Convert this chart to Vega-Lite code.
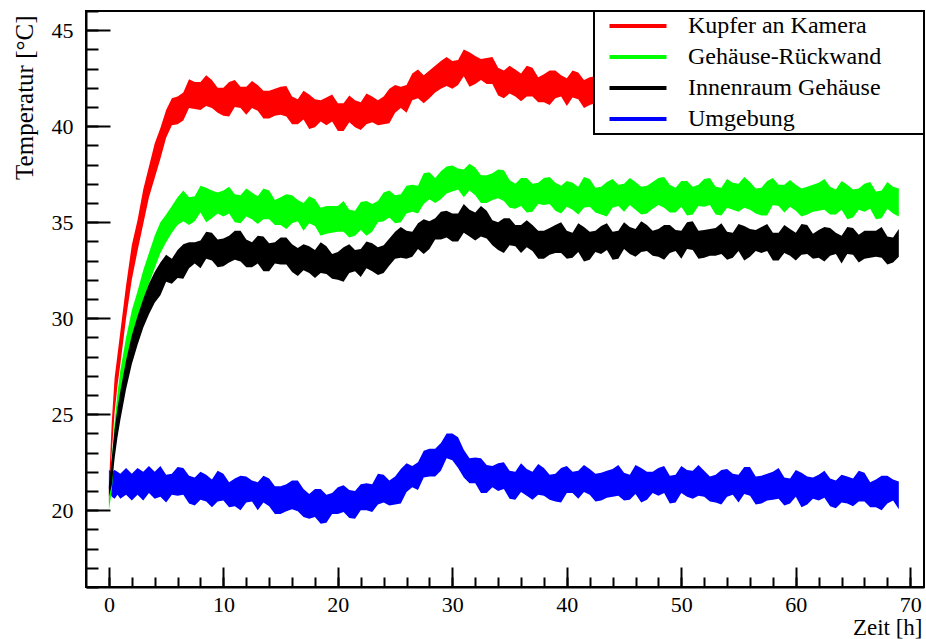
{
"$schema": "https://vega.github.io/schema/vega-lite/v6.json",
"width": 838, "height": 576,
"autosize": {"type": "none"},
"padding": {"left": 86, "top": 11, "right": 2, "bottom": 52},
"background": "white",
"config": {"view": {"stroke": "black", "strokeWidth": 2}, "font": "Liberation Serif"},
"data": {"values": [
{"t":0,"r0":20.4,"r1":21.2,"g0":20.0,"g1":20.6,"k0":20.7,"k1":21.3,"b0":21.1,"b1":22.1},
{"t":0.25,"r0":23.0,"r1":24.6,"g0":21.0,"g1":22.6,"k0":21.3,"k1":22.7,"b0":20.7,"b1":22.0},
{"t":0.5,"r0":25.1,"r1":26.9,"g0":23.0,"g1":24.6,"k0":22.7,"k1":24.2,"b0":20.6,"b1":22.1},
{"t":0.75,"r0":26.5,"r1":28.1,"g0":24.4,"g1":26.1,"k0":23.8,"k1":25.3,"b0":20.8,"b1":22.0},
{"t":1,"r0":27.6,"r1":29.3,"g0":25.7,"g1":27.3,"k0":24.7,"k1":26.2,"b0":20.6,"b1":21.9},
{"t":1.5,"r0":30.0,"r1":31.7,"g0":27.4,"g1":29.0,"k0":26.3,"k1":27.8,"b0":20.8,"b1":22.2},
{"t":2,"r0":32.0,"r1":33.8,"g0":28.7,"g1":30.4,"k0":27.6,"k1":29.1,"b0":20.5,"b1":21.9},
{"t":2.5,"r0":33.5,"r1":35.1,"g0":29.8,"g1":31.4,"k0":28.6,"k1":30.1,"b0":20.8,"b1":22.2},
{"t":3,"r0":34.9,"r1":36.7,"g0":30.9,"g1":32.5,"k0":29.5,"k1":31.0,"b0":20.5,"b1":22.0},
{"t":3.5,"r0":36.3,"r1":37.9,"g0":31.8,"g1":33.4,"k0":30.2,"k1":31.8,"b0":20.9,"b1":22.3},
{"t":4,"r0":37.3,"r1":39.1,"g0":32.6,"g1":34.3,"k0":30.8,"k1":32.4,"b0":20.6,"b1":22.0},
{"t":4.5,"r0":38.3,"r1":39.9,"g0":33.4,"g1":35.0,"k0":31.2,"k1":32.9,"b0":20.7,"b1":22.3},
{"t":5,"r0":39.4,"r1":40.85,"g0":33.95,"g1":35.4,"k0":31.9,"k1":33.3,"b0":20.4,"b1":21.85},
{"t":5.5,"r0":40.05,"r1":41.45,"g0":34.45,"g1":35.85,"k0":31.8,"k1":33.1,"b0":20.8,"b1":21.9},
{"t":6,"r0":40.1,"r1":41.55,"g0":34.85,"g1":36.3,"k0":32.1,"k1":33.55,"b0":20.75,"b1":22.25},
{"t":6.5,"r0":40.3,"r1":41.75,"g0":35.05,"g1":36.65,"k0":32.05,"k1":33.85,"b0":20.8,"b1":22.2},
{"t":7,"r0":40.95,"r1":42.45,"g0":34.85,"g1":36.3,"k0":32.6,"k1":33.95,"b0":20.35,"b1":21.8},
{"t":7.5,"r0":40.9,"r1":42.3,"g0":35.05,"g1":36.35,"k0":32.85,"k1":33.95,"b0":20.25,"b1":21.7},
{"t":8,"r0":40.85,"r1":42.3,"g0":35.5,"g1":36.9,"k0":32.6,"k1":34.05,"b0":20.55,"b1":22.0},
{"t":8.5,"r0":41.05,"r1":42.65,"g0":35.0,"g1":36.8,"k0":33.1,"k1":34.5,"b0":20.45,"b1":21.85},
{"t":9,"r0":40.95,"r1":42.4,"g0":35.2,"g1":36.65,"k0":33.0,"k1":34.45,"b0":20.15,"b1":21.6},
{"t":9.5,"r0":40.7,"r1":42.0,"g0":35.45,"g1":36.55,"k0":32.65,"k1":34.1,"b0":20.45,"b1":22.05},
{"t":10,"r0":40.55,"r1":42.0,"g0":35.3,"g1":36.65,"k0":32.7,"k1":34.15,"b0":20.5,"b1":21.9},
{"t":10.5,"r0":40.5,"r1":42.3,"g0":35.45,"g1":36.85,"k0":32.9,"k1":34.3,"b0":20.15,"b1":21.45},
{"t":11,"r0":41.0,"r1":42.4,"g0":35.0,"g1":36.45,"k0":33.05,"k1":34.55,"b0":20.2,"b1":21.65},
{"t":11.5,"r0":40.95,"r1":42.05,"g0":34.95,"g1":36.4,"k0":32.95,"k1":34.55,"b0":20.0,"b1":21.8},
{"t":12,"r0":40.6,"r1":42.05,"g0":35.3,"g1":36.75,"k0":32.65,"k1":34.1,"b0":20.4,"b1":21.75},
{"t":12.5,"r0":40.95,"r1":42.35,"g0":35.15,"g1":36.55,"k0":32.65,"k1":33.95,"b0":20.45,"b1":21.55},
{"t":13,"r0":40.8,"r1":42.15,"g0":34.9,"g1":36.35,"k0":32.85,"k1":34.3,"b0":20.0,"b1":21.45},
{"t":13.5,"r0":40.4,"r1":41.85,"g0":35.15,"g1":36.75,"k0":32.45,"k1":34.25,"b0":20.4,"b1":21.8},
{"t":14,"r0":40.4,"r1":41.85,"g0":35.15,"g1":36.65,"k0":32.45,"k1":33.9,"b0":20.2,"b1":21.65},
{"t":14.5,"r0":40.55,"r1":41.95,"g0":34.85,"g1":36.15,"k0":32.85,"k1":33.95,"b0":19.8,"b1":21.25},
{"t":15,"r0":40.6,"r1":42.05,"g0":34.85,"g1":36.3,"k0":32.8,"k1":34.2,"b0":19.8,"b1":21.25},
{"t":15.5,"r0":40.5,"r1":42.1,"g0":34.65,"g1":36.45,"k0":32.8,"k1":34.2,"b0":19.95,"b1":21.35},
{"t":16,"r0":40.1,"r1":41.55,"g0":34.95,"g1":36.4,"k0":32.4,"k1":33.85,"b0":20.05,"b1":21.55},
{"t":16.5,"r0":40.1,"r1":41.4,"g0":35.05,"g1":36.15,"k0":32.2,"k1":33.65,"b0":19.95,"b1":21.55},
{"t":17,"r0":40.35,"r1":41.85,"g0":34.55,"g1":36.0,"k0":32.5,"k1":33.85,"b0":19.65,"b1":21.1},
{"t":17.5,"r0":39.85,"r1":41.65,"g0":34.95,"g1":36.35,"k0":32.35,"k1":33.75,"b0":19.55,"b1":20.85},
{"t":18,"r0":39.95,"r1":41.4,"g0":34.8,"g1":36.2,"k0":32.1,"k1":33.55,"b0":19.65,"b1":21.1},
{"t":18.5,"r0":40.25,"r1":41.35,"g0":34.3,"g1":35.75,"k0":32.35,"k1":33.95,"b0":19.3,"b1":21.1},
{"t":19,"r0":40.05,"r1":41.5,"g0":34.4,"g1":35.85,"k0":32.3,"k1":33.75,"b0":19.35,"b1":20.8},
{"t":19.5,"r0":40.25,"r1":41.65,"g0":34.45,"g1":35.85,"k0":32.05,"k1":33.35,"b0":19.8,"b1":20.9},
{"t":20,"r0":39.75,"r1":41.2,"g0":34.5,"g1":35.85,"k0":32.0,"k1":33.45,"b0":19.8,"b1":21.2},
{"t":20.5,"r0":39.75,"r1":41.2,"g0":34.5,"g1":36.1,"k0":31.9,"k1":33.7,"b0":19.9,"b1":21.3},
{"t":21,"r0":40.2,"r1":41.6,"g0":34.2,"g1":35.65,"k0":32.35,"k1":33.85,"b0":19.6,"b1":21.05},
{"t":21.5,"r0":39.95,"r1":41.35,"g0":34.3,"g1":35.6,"k0":32.45,"k1":33.55,"b0":19.55,"b1":21.0},
{"t":22,"r0":39.8,"r1":41.25,"g0":34.6,"g1":36.05,"k0":32.15,"k1":33.6,"b0":20.0,"b1":21.35},
{"t":22.5,"r0":40.1,"r1":41.7,"g0":34.3,"g1":36.1,"k0":32.6,"k1":34.0,"b0":20.0,"b1":21.4},
{"t":23,"r0":40.2,"r1":41.55,"g0":34.5,"g1":35.95,"k0":32.45,"k1":33.9,"b0":19.9,"b1":21.35},
{"t":23.5,"r0":40.05,"r1":41.35,"g0":35.0,"g1":36.1,"k0":32.25,"k1":33.7,"b0":20.3,"b1":21.9},
{"t":24,"r0":40.1,"r1":41.55,"g0":35.05,"g1":36.55,"k0":32.35,"k1":33.8,"b0":20.4,"b1":21.85},
{"t":24.5,"r0":40.15,"r1":41.95,"g0":35.25,"g1":36.65,"k0":32.75,"k1":34.15,"b0":20.25,"b1":21.55},
{"t":25,"r0":40.7,"r1":42.15,"g0":34.95,"g1":36.4,"k0":33.1,"k1":34.5,"b0":20.3,"b1":21.75},
{"t":25.5,"r0":40.95,"r1":42.05,"g0":35.0,"g1":36.45,"k0":33.15,"k1":34.75,"b0":20.35,"b1":22.15},
{"t":26,"r0":40.7,"r1":42.15,"g0":35.45,"g1":36.9,"k0":33.1,"k1":34.55,"b0":20.95,"b1":22.45},
{"t":26.5,"r0":41.35,"r1":42.75,"g0":35.55,"g1":36.95,"k0":33.2,"k1":34.5,"b0":21.2,"b1":22.3},
{"t":27,"r0":41.45,"r1":42.95,"g0":35.45,"g1":36.9,"k0":33.6,"k1":34.95,"b0":21.05,"b1":22.5},
{"t":27.5,"r0":41.2,"r1":42.65,"g0":35.95,"g1":37.55,"k0":33.35,"k1":35.15,"b0":21.7,"b1":23.1},
{"t":28,"r0":41.45,"r1":42.9,"g0":36.2,"g1":37.6,"k0":33.6,"k1":35.05,"b0":21.75,"b1":23.2},
{"t":28.5,"r0":41.75,"r1":43.15,"g0":36.0,"g1":37.3,"k0":34.1,"k1":35.2,"b0":21.75,"b1":23.2},
{"t":29,"r0":41.95,"r1":43.4,"g0":36.2,"g1":37.65,"k0":34.1,"k1":35.55,"b0":22.05,"b1":23.5},
{"t":29.5,"r0":42.1,"r1":43.6,"g0":36.5,"g1":37.9,"k0":34.2,"k1":35.6,"b0":22.7,"b1":24.0},
{"t":30,"r0":41.95,"r1":43.4,"g0":36.6,"g1":37.95,"k0":34.0,"k1":35.45,"b0":22.6,"b1":24.0},
{"t":30.5,"r0":42.15,"r1":43.45,"g0":36.7,"g1":37.8,"k0":34.0,"k1":35.45,"b0":22.2,"b1":23.8},
{"t":31,"r0":42.6,"r1":44.0,"g0":36.3,"g1":37.75,"k0":34.45,"k1":35.95,"b0":21.7,"b1":23.15},
{"t":31.5,"r0":42.05,"r1":43.85,"g0":36.65,"g1":38.05,"k0":34.25,"k1":35.65,"b0":21.4,"b1":22.7},
{"t":32,"r0":42.2,"r1":43.65,"g0":36.4,"g1":37.85,"k0":34.05,"k1":35.5,"b0":21.4,"b1":22.75},
{"t":32.5,"r0":42.4,"r1":43.5,"g0":36.0,"g1":37.45,"k0":34.25,"k1":35.85,"b0":20.9,"b1":22.7},
{"t":33,"r0":42.2,"r1":43.55,"g0":36.0,"g1":37.45,"k0":34.15,"k1":35.6,"b0":20.9,"b1":22.35},
{"t":33.5,"r0":42.2,"r1":43.6,"g0":36.15,"g1":37.55,"k0":33.8,"k1":35.1,"b0":21.2,"b1":22.3},
{"t":34,"r0":41.6,"r1":43.05,"g0":36.25,"g1":37.75,"k0":33.55,"k1":35.0,"b0":21.0,"b1":22.45},
{"t":34.5,"r0":41.45,"r1":42.9,"g0":36.1,"g1":37.7,"k0":33.4,"k1":35.2,"b0":21.1,"b1":22.5},
{"t":35,"r0":41.7,"r1":43.15,"g0":35.75,"g1":37.2,"k0":33.8,"k1":35.2,"b0":20.6,"b1":22.05},
{"t":35.5,"r0":41.55,"r1":42.95,"g0":35.7,"g1":37.0,"k0":33.75,"k1":34.85,"b0":20.55,"b1":22.0},
{"t":36,"r0":41.3,"r1":42.75,"g0":35.85,"g1":37.3,"k0":33.4,"k1":34.85,"b0":20.95,"b1":22.45},
{"t":36.5,"r0":41.55,"r1":43.15,"g0":35.5,"g1":37.3,"k0":33.7,"k1":35.1,"b0":20.75,"b1":22.15},
{"t":37,"r0":41.55,"r1":43.05,"g0":35.55,"g1":37.0,"k0":33.5,"k1":34.85,"b0":20.55,"b1":22.0},
{"t":37.5,"r0":41.25,"r1":42.55,"g0":35.95,"g1":37.05,"k0":33.1,"k1":34.55,"b0":20.8,"b1":22.4},
{"t":38,"r0":41.25,"r1":42.7,"g0":35.9,"g1":37.3,"k0":33.1,"k1":34.55,"b0":20.75,"b1":22.2},
{"t":38.5,"r0":41.1,"r1":42.9,"g0":35.95,"g1":37.35,"k0":33.3,"k1":34.7,"b0":20.55,"b1":21.85},
{"t":39,"r0":41.45,"r1":42.9,"g0":35.6,"g1":37.05,"k0":33.4,"k1":34.85,"b0":20.45,"b1":21.9},
{"t":39.5,"r0":41.55,"r1":42.65,"g0":35.45,"g1":36.9,"k0":33.4,"k1":35.0,"b0":20.4,"b1":22.2},
{"t":40,"r0":41.05,"r1":42.5,"g0":35.8,"g1":37.15,"k0":33.1,"k1":34.55,"b0":20.9,"b1":22.3},
{"t":40.5,"r0":41.5,"r1":42.9,"g0":35.65,"g1":37.05,"k0":33.15,"k1":34.45,"b0":20.9,"b1":22.0},
{"t":41,"r0":41.4,"r1":42.8,"g0":35.4,"g1":36.85,"k0":33.45,"k1":34.95,"b0":20.6,"b1":22.05},
{"t":41.5,"r0":40.95,"r1":42.4,"g0":35.75,"g1":37.35,"k0":32.95,"k1":34.75,"b0":20.95,"b1":22.35},
{"t":42,"r0":41.1,"r1":42.55,"g0":35.8,"g1":37.25,"k0":33.05,"k1":34.5,"b0":20.8,"b1":22.15},
{"t":42.5,"r0":41.2,"r1":42.6,"g0":35.5,"g1":36.8,"k0":33.45,"k1":34.55,"b0":20.45,"b1":21.9},
{"t":43,"r0":41.3,"r1":42.65,"g0":35.4,"g1":36.85,"k0":33.35,"k1":34.8,"b0":20.5,"b1":21.95},
{"t":43.5,"r0":41.3,"r1":42.9,"g0":35.3,"g1":37.1,"k0":33.55,"k1":34.95,"b0":20.65,"b1":22.05},
{"t":44,"r0":41.0,"r1":42.45,"g0":35.75,"g1":37.25,"k0":33.05,"k1":34.5,"b0":20.7,"b1":22.15},
{"t":44.5,"r0":41.05,"r1":42.35,"g0":35.85,"g1":36.95,"k0":33.1,"k1":34.55,"b0":20.75,"b1":22.35},
{"t":45,"r0":41.3,"r1":42.75,"g0":35.55,"g1":37.0,"k0":33.6,"k1":35.0,"b0":20.5,"b1":21.95},
{"t":45.5,"r0":40.9,"r1":42.7,"g0":35.9,"g1":37.3,"k0":33.35,"k1":34.75,"b0":20.55,"b1":21.85},
{"t":46,"r0":41.0,"r1":42.45,"g0":35.65,"g1":37.1,"k0":33.2,"k1":34.65,"b0":20.85,"b1":22.35},
{"t":46.5,"r0":41.4,"r1":42.5,"g0":35.4,"g1":36.85,"k0":33.45,"k1":35.05,"b0":20.4,"b1":22.2},
{"t":47,"r0":41.35,"r1":42.85,"g0":35.45,"g1":36.9,"k0":33.5,"k1":34.85,"b0":20.55,"b1":22.0},
{"t":47.5,"r0":41.4,"r1":42.8,"g0":35.7,"g1":37.1,"k0":33.25,"k1":34.55,"b0":20.9,"b1":22.0},
{"t":48,"r0":40.95,"r1":42.4,"g0":35.9,"g1":37.3,"k0":33.2,"k1":34.65,"b0":20.75,"b1":22.2},
{"t":48.5,"r0":40.85,"r1":42.3,"g0":35.75,"g1":37.35,"k0":33.05,"k1":34.85,"b0":20.9,"b1":22.3},
{"t":49,"r0":41.15,"r1":42.6,"g0":35.5,"g1":36.95,"k0":33.4,"k1":34.85,"b0":20.35,"b1":21.8},
{"t":49.5,"r0":41.1,"r1":42.5,"g0":35.5,"g1":36.8,"k0":33.5,"k1":34.6,"b0":20.4,"b1":21.85},
{"t":50,"r0":40.85,"r1":42.3,"g0":35.8,"g1":37.15,"k0":33.1,"k1":34.55,"b0":20.9,"b1":22.3},
{"t":50.5,"r0":41.2,"r1":42.8,"g0":35.35,"g1":37.15,"k0":33.6,"k1":35.0,"b0":20.7,"b1":22.1},
{"t":51,"r0":41.3,"r1":42.7,"g0":35.4,"g1":36.85,"k0":33.55,"k1":35.05,"b0":20.6,"b1":22.05},
{"t":51.5,"r0":40.95,"r1":42.25,"g0":35.85,"g1":36.95,"k0":33.1,"k1":34.55,"b0":20.75,"b1":22.35},
{"t":52,"r0":41.0,"r1":42.45,"g0":35.8,"g1":37.25,"k0":33.15,"k1":34.6,"b0":20.7,"b1":22.05},
{"t":52.5,"r0":40.8,"r1":42.6,"g0":35.9,"g1":37.3,"k0":33.25,"k1":34.65,"b0":20.45,"b1":21.75},
{"t":53,"r0":41.2,"r1":42.55,"g0":35.4,"g1":36.85,"k0":33.25,"k1":34.7,"b0":20.4,"b1":21.85},
{"t":53.5,"r0":41.3,"r1":42.4,"g0":35.35,"g1":36.8,"k0":33.35,"k1":34.95,"b0":20.3,"b1":22.1},
{"t":54,"r0":40.9,"r1":42.35,"g0":35.75,"g1":37.25,"k0":33.05,"k1":34.5,"b0":20.7,"b1":22.15},
{"t":54.5,"r0":41.35,"r1":42.75,"g0":35.65,"g1":37.05,"k0":33.15,"k1":34.45,"b0":20.8,"b1":21.9},
{"t":55,"r0":41.2,"r1":42.65,"g0":35.55,"g1":37.0,"k0":33.5,"k1":34.9,"b0":20.4,"b1":21.85},
{"t":55.5,"r0":40.85,"r1":42.3,"g0":35.75,"g1":37.35,"k0":33.0,"k1":34.8,"b0":20.85,"b1":22.25},
{"t":56,"r0":40.9,"r1":42.35,"g0":35.65,"g1":37.1,"k0":33.2,"k1":34.65,"b0":20.75,"b1":22.25},
{"t":56.5,"r0":41.1,"r1":42.5,"g0":35.45,"g1":36.75,"k0":33.5,"k1":34.6,"b0":20.3,"b1":21.75},
{"t":57,"r0":41.25,"r1":42.75,"g0":35.35,"g1":36.8,"k0":33.4,"k1":34.75,"b0":20.35,"b1":21.8},
{"t":57.5,"r0":41.2,"r1":42.8,"g0":35.35,"g1":37.15,"k0":33.5,"k1":34.9,"b0":20.5,"b1":21.9},
{"t":58,"r0":40.95,"r1":42.4,"g0":35.9,"g1":37.3,"k0":33.0,"k1":34.45,"b0":20.55,"b1":22.0},
{"t":58.5,"r0":40.95,"r1":42.25,"g0":35.85,"g1":36.95,"k0":33.0,"k1":34.45,"b0":20.6,"b1":22.2},
{"t":59,"r0":41.15,"r1":42.6,"g0":35.5,"g1":36.95,"k0":33.4,"k1":34.85,"b0":20.25,"b1":21.7},
{"t":59.5,"r0":40.8,"r1":42.6,"g0":35.8,"g1":37.2,"k0":33.25,"k1":34.65,"b0":20.35,"b1":21.65},
{"t":60,"r0":40.85,"r1":42.3,"g0":35.6,"g1":36.95,"k0":33.0,"k1":34.45,"b0":20.7,"b1":22.1},
{"t":60.5,"r0":41.3,"r1":42.4,"g0":35.3,"g1":36.75,"k0":33.3,"k1":34.9,"b0":20.15,"b1":21.95},
{"t":61,"r0":41.3,"r1":42.7,"g0":35.4,"g1":36.85,"k0":33.35,"k1":34.85,"b0":20.3,"b1":21.75},
{"t":61.5,"r0":41.35,"r1":42.75,"g0":35.55,"g1":36.95,"k0":33.1,"k1":34.4,"b0":20.6,"b1":21.7},
{"t":62,"r0":41.0,"r1":42.45,"g0":35.6,"g1":37.05,"k0":33.15,"k1":34.6,"b0":20.5,"b1":21.85},
{"t":62.5,"r0":40.85,"r1":42.3,"g0":35.65,"g1":37.25,"k0":32.95,"k1":34.75,"b0":20.65,"b1":22.05},
{"t":63,"r0":41.2,"r1":42.55,"g0":35.4,"g1":36.85,"k0":33.25,"k1":34.7,"b0":20.2,"b1":21.65},
{"t":63.5,"r0":41.1,"r1":42.5,"g0":35.4,"g1":36.7,"k0":33.35,"k1":34.45,"b0":20.1,"b1":21.55},
{"t":64,"r0":40.9,"r1":42.35,"g0":35.65,"g1":37.15,"k0":32.85,"k1":34.3,"b0":20.4,"b1":21.85},
{"t":64.5,"r0":41.2,"r1":42.8,"g0":35.15,"g1":36.95,"k0":33.35,"k1":34.75,"b0":20.35,"b1":21.75},
{"t":65,"r0":41.2,"r1":42.65,"g0":35.25,"g1":36.7,"k0":33.3,"k1":34.7,"b0":20.2,"b1":21.65},
{"t":65.5,"r0":40.95,"r1":42.25,"g0":35.65,"g1":36.75,"k0":32.9,"k1":34.35,"b0":20.45,"b1":22.05},
{"t":66,"r0":40.9,"r1":42.35,"g0":35.55,"g1":37.0,"k0":33.1,"k1":34.55,"b0":20.45,"b1":21.95},
{"t":66.5,"r0":40.8,"r1":42.6,"g0":35.7,"g1":37.1,"k0":33.15,"k1":34.55,"b0":20.15,"b1":21.45},
{"t":67,"r0":41.25,"r1":42.75,"g0":35.15,"g1":36.6,"k0":33.2,"k1":34.55,"b0":20.15,"b1":21.6},
{"t":67.5,"r0":41.3,"r1":42.4,"g0":35.2,"g1":36.65,"k0":33.15,"k1":34.75,"b0":20.0,"b1":21.8},
{"t":68,"r0":40.95,"r1":42.4,"g0":35.7,"g1":37.1,"k0":32.8,"k1":34.25,"b0":20.35,"b1":21.8},
{"t":68.5,"r0":41.35,"r1":42.75,"g0":35.45,"g1":36.85,"k0":32.9,"k1":34.2,"b0":20.5,"b1":21.6},
{"t":69,"r0":41.15,"r1":42.6,"g0":35.3,"g1":36.75,"k0":33.2,"k1":34.65,"b0":20.05,"b1":21.5}
]},
"resolve": {"axis": {"x": "independent", "y": "independent"}},
"layer": [
{"mark": {"type": "area", "interpolate": "linear"},
 "encoding": {
  "x": {"field": "t", "type": "quantitative", "scale": {"domain": [-2, 71.2], "nice": false, "zero": false},
        "axis": {"orient": "bottom", "values": [0,10,20,30,40,50,60,70], "tickSize": -20, "tickWidth": 2, "tickColor": "black",
                 "domain": true, "domainColor": "black", "domainWidth": 2, "grid": false,
                 "labelFont": "Liberation Serif", "labelFontSize": 22, "labelColor": "black", "labelPadding": 27,
                 "labelOverlap": false, "labelFlush": false, "labelBound": false,
                 "title": "Zeit [h]", "titleFont": "Liberation Serif", "titleFontSize": 23, "titleFontWeight": "normal", "titleColor": "black",
                 "titleAnchor": "end", "titleAlign": "right", "titleBaseline": "alphabetic", "titleX": 836, "titleY": 47}},
  "y": {"field": "b0", "type": "quantitative", "scale": {"domain": [16, 46], "nice": false, "zero": false},
        "axis": {"orient": "left", "values": [20,25,30,35,40,45], "tickSize": -24, "tickWidth": 2, "tickColor": "black",
                 "domain": true, "domainColor": "black", "domainWidth": 2, "grid": false,
                 "labelFont": "Liberation Serif", "labelFontSize": 22, "labelColor": "black", "labelPadding": 37,
                 "labelOverlap": false, "labelFlush": false, "labelBound": false,
                 "title": "Temperatur [°C]", "titleFont": "Liberation Serif", "titleFontSize": 25, "titleFontWeight": "normal", "titleColor": "black",
                 "titleAngle": 270, "titleAnchor": "end", "titleAlign": "right", "titleBaseline": "alphabetic", "titleX": -54, "titleY": 4}},
  "y2": {"field": "b1"},
  "color": {"datum": "Umgebung", "type": "nominal",
            "scale": {"domain": ["Kupfer an Kamera", "Gehäuse-Rückwand", "Innenraum Gehäuse", "Umgebung"], "range": ["#ff0000", "#00ff00", "#000000", "#0000ff"]},
            "legend": {"orient": "none", "legendX": 508, "legendY": 0, "padding": 3,
                       "title": ".", "titleOrient": "right", "titleColor": "white", "titleOpacity": 0, "titleFontSize": 10, "titlePadding": 37,
                       "strokeColor": "black", "fillColor": "white",
                       "labelFont": "Liberation Serif", "labelFontSize": 24, "labelColor": "black", "labelLimit": 0,
                       "symbolType": "M-3,0H3", "symbolSize": 361, "symbolStrokeWidth": 4, "symbolOffset": 29, "labelOffset": 38, "rowPadding": 7,
                       "encode": {"legend": {"update": {"strokeWidth": {"value": 2}}},
                                  "symbols": {"update": {"stroke": {"scale": "color", "field": "value"}, "strokeWidth": {"value": 4}, "fill": {"value": "transparent"}, "opacity": {"value": 1}}}}}}
 }},
{"mark": {"type": "area", "interpolate": "linear"},
 "encoding": {
  "x": {"field": "t", "type": "quantitative",
        "axis": {"orient": "bottom", "values": [0,2,4,6,8,10,12,14,16,18,20,22,24,26,28,30,32,34,36,38,40,42,44,46,48,50,52,54,56,58,60,62,64,66,68,70],
                 "tickSize": -10, "tickWidth": 2, "tickColor": "black", "labels": false, "domain": false, "grid": false, "title": null}},
  "y": {"field": "r0", "type": "quantitative",
        "axis": {"orient": "left", "values": [16,17,18,19,20,21,22,23,24,25,26,27,28,29,30,31,32,33,34,35,36,37,38,39,40,41,42,43,44,45,46],
                 "tickSize": -12, "tickWidth": 2, "tickColor": "black", "labels": false, "domain": false, "grid": false, "title": null}},
  "y2": {"field": "r1"},
  "color": {"datum": "Kupfer an Kamera", "type": "nominal"}
 }},
{"mark": {"type": "area", "interpolate": "linear"},
 "encoding": {
  "x": {"field": "t", "type": "quantitative", "axis": null},
  "y": {"field": "g0", "type": "quantitative", "axis": null},
  "y2": {"field": "g1"},
  "color": {"datum": "Gehäuse-Rückwand", "type": "nominal"}
 }},
{"mark": {"type": "area", "interpolate": "linear"},
 "encoding": {
  "x": {"field": "t", "type": "quantitative", "axis": null},
  "y": {"field": "k0", "type": "quantitative", "axis": null},
  "y2": {"field": "k1"},
  "color": {"datum": "Innenraum Gehäuse", "type": "nominal"}
 }}
]
}
